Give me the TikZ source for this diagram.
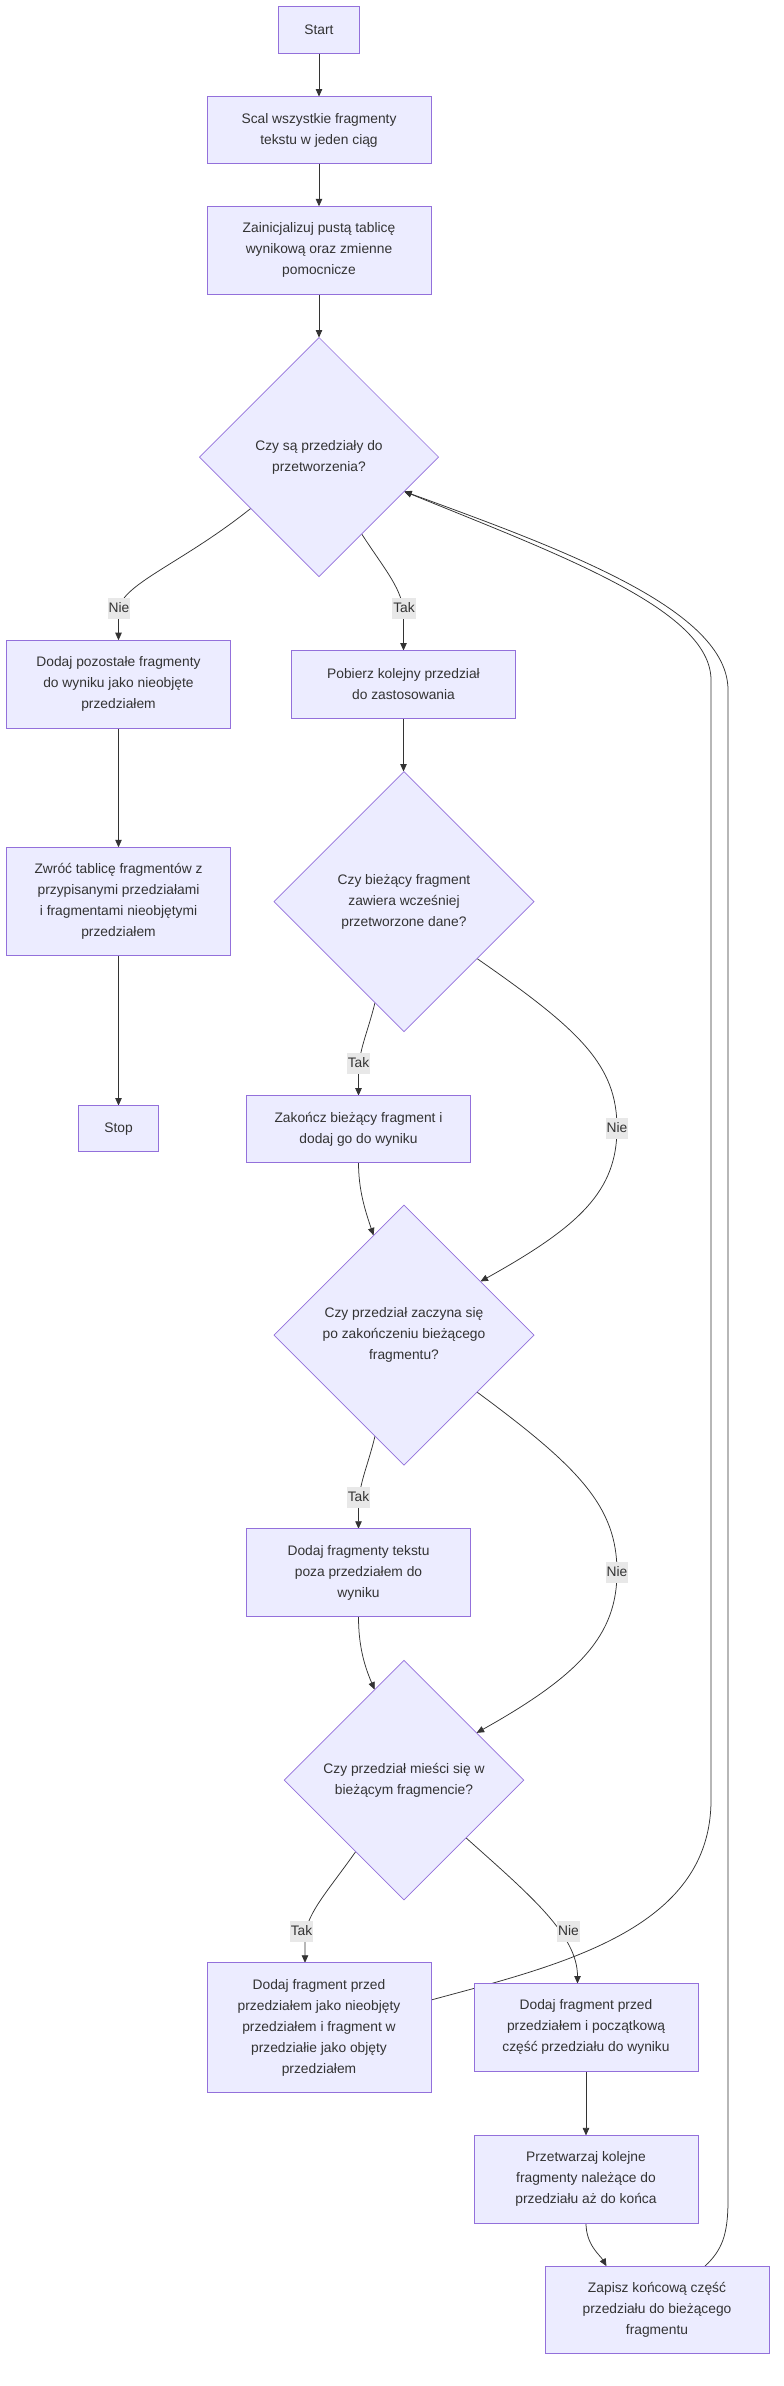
\documentclass[tikz,border=0pt]{standalone}
\usepackage{fontspec}
\setmainfont{Liberation Sans}
\usetikzlibrary{shapes.geometric,arrows.meta,backgrounds}
\definecolor{boxfill}{HTML}{ECECFF}
\definecolor{boxline}{HTML}{9370DB}
\definecolor{txt}{HTML}{333333}
\definecolor{edgecol}{HTML}{333333}
\definecolor{lblbg}{HTML}{E8E8E8}
\begin{document}
\begin{tikzpicture}[x=1pt,y=-1pt,
  box/.style={rectangle, draw=boxline, fill=boxfill, line width=1pt, inner sep=0pt, outer sep=0pt, align=center, text=txt, font=\fontsize{13.8}{21}\selectfont, minimum width=224pt},
  dia/.style={diamond, aspect=1, draw=boxline, fill=boxfill, line width=0.7pt, inner sep=0pt, outer sep=0pt, align=center, text=txt, font=\fontsize{13.8}{21}\selectfont},
  lbl/.style={rectangle, fill=lblbg, inner sep=0pt, inner xsep=1pt, minimum height=21pt, text=txt, font=\fontsize{13.8}{21}\selectfont},
  conn/.style={draw=edgecol, line width=0.75pt, -{Triangle[length=7.5pt,width=6.5pt]}}
]
\useasboundingbox (0,0) rectangle (784,2386);

\node[box, minimum width=81pt, minimum height=47pt] (n1) at (319,30) {Start};
\node[box, minimum height=67pt] (n2) at (319,130) {Scal wszystkie fragmenty\\tekstu w jeden ciąg};
\node[box, minimum height=88pt] (n3) at (319,250.3) {Zainicjalizuj pustą tablicę\\wynikową oraz zmienne\\pomocnicze};
\node[dia, minimum width=239pt, minimum height=239pt] (d1) at (319,457) {Czy są przedziały do\\przetworzenia?};
\node[box, minimum height=88.4pt] (n5) at (118.5,684.4) {Dodaj pozostałe fragmenty\\do wyniku jako nieobjęte\\przedziałem};
\node[box, minimum height=67.8pt] (n6) at (403.5,684.4) {Pobierz kolejny przedział\\do zastosowania};
\node[dia, minimum width=260pt, minimum height=260pt] (d2) at (404,901.5) {Czy bieżący fragment\\zawiera wcześniej\\przetworzone dane?};
\node[box, minimum height=108.3pt] (n7) at (118.5,901.4) {Zwróć tablicę fragmentów z\\przypisanymi przedziałami\\i fragmentami nieobjętymi\\przedziałem};
\node[box, minimum width=80pt, minimum height=46.4pt] (stop) at (118.5,1128.7) {Stop};
\node[box, minimum height=66.6pt] (n8) at (358.5,1128.9) {Zakończ bieżący fragment i\\dodaj go do wyniku};
\node[dia, minimum width=260pt, minimum height=260pt] (d3) at (404,1335) {Czy przedział zaczyna się\\po zakończeniu bieżącego\\fragmentu?};
\node[box, minimum height=88pt] (n10) at (358.5,1572.75) {Dodaj fragmenty tekstu\\poza przedziałem do\\wyniku};
\node[dia, minimum width=239.5pt, minimum height=239.5pt] (d4) at (404,1780) {Czy przedział mieści się w\\bieżącym fragmencie?};
\node[box, minimum height=129.4pt] (nA) at (319,2027.5) {Dodaj fragment przed\\przedziałem jako nieobjęty\\przedziałem i fragment w\\przedziałie jako objęty\\przedziałem};
\node[box, minimum height=87.6pt] (nB) at (586,2027.3) {Dodaj fragment przed\\przedziałem i początkową\\część przedziału do wyniku};
\node[box, minimum height=87.6pt] (nP) at (586,2179.2) {Przetwarzaj kolejne\\fragmenty należące do\\przedziału aż do końca};
\node[box, minimum height=87.7pt] (nZ) at (657,2310) {Zapisz końcową część\\przedziału do bieżącego\\fragmentu};

\node[lbl] (l1) at (119,608) {Nie};
\node[lbl] (l2) at (404,608) {Tak};
\node[lbl] (l3) at (358.5,1063) {Tak};
\node[lbl] (l4) at (617,1128) {Nie};
\node[lbl] (l5) at (358.5,1497) {Tak};
\node[lbl] (l6) at (617,1572) {Nie};
\node[lbl] (l7) at (301.5,1931) {Tak};
\node[lbl] (l8) at (568.5,1931) {Nie};

\begin{scope}[on background layer]
\fill[white] (0,0) rectangle (784,2386);
\draw[conn] (n1.south) -- (n2.north);
\draw[conn] (n2.south) -- (n3.north);
\draw[conn] (n3.south) -- (d1.north);
\draw[conn] (d1.217.7) .. controls (180,565) and (118.5,585) .. (118.5,612) -- (n5.north);
\draw[conn] (d1.299.5) .. controls (385,570) and (403.5,590) .. (403.5,615) -- (n6.north);
\draw[conn] (n5.south) -- (n7.north);
\draw[conn] (n7.south) -- (stop.north);
\draw[conn] (n6.south) -- (n6.south |- d2.north);
\draw[conn] (d2.254.4) .. controls (367,1035) and (358.5,1050) .. (358.5,1075) -- (n8.north);
\draw[conn] (d2.322.9) .. controls (580,1030) and (617,1065) .. (617,1128) .. controls (617,1191) and (580,1226) .. (d3.35);
\draw[conn] (n8.south) .. controls (358.5,1190) and (365,1210) .. (d3.107.3);
\draw[conn] (d3.254.5) .. controls (367,1469) and (358.5,1484) .. (358.5,1509) -- (n10.north);
\draw[conn] (d3.322.6) .. controls (580,1468) and (617,1507) .. (617,1572) .. controls (617,1635) and (580,1675) .. (d4.33.3);
\draw[conn] (n10.south) .. controls (358.5,1645) and (364,1665) .. (d4.108.1);
\draw[conn] (d4.236) .. controls (325,1895) and (305,1915) .. (305,1940) -- ([xshift=-14pt]nA.north);
\draw[conn] (d4.317.3) .. controls (530,1895) and (577.5,1935) .. ([xshift=-8.5pt]nB.north);
\draw[conn] (nB.south) -- (nP.north);
\draw[conn] (nP.south) .. controls (586,2245) and (600,2255) .. ([xshift=-50.5pt]nZ.north);
\draw[conn] ([yshift=27.5pt]nA.east) .. controls (560,1965) and (711,1930) .. (711,1800) -- (711,680) .. controls (711,610) and (560,555) .. (d1.338.8);
\draw[conn] ([xshift=48pt]nZ.north) .. controls (722,2250) and (728,2235) .. (728,2200) -- (728,690) .. controls (728,610) and (565,550) .. (d1.338.8);
\end{scope}
\end{tikzpicture}
\end{document}
